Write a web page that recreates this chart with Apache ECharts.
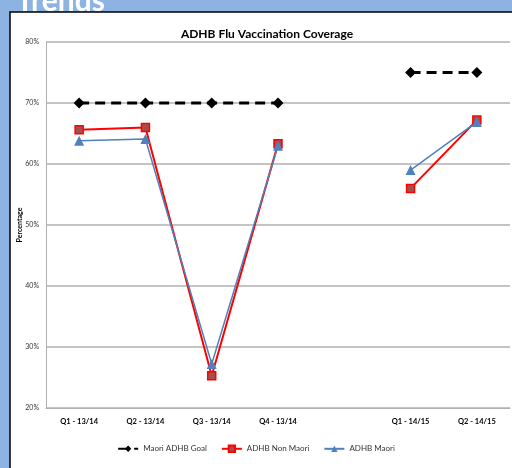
<!DOCTYPE html>
<html><head><meta charset="utf-8">
<script src="https://cdn.jsdelivr.net/npm/echarts@6/dist/echarts.min.js"></script>
<style>html,body{margin:0;padding:0;background:#8DB3E2;}#c{width:512px;height:468px;}</style>
</head><body><div id="c"></div>
<script>
const categories = ['Q1 - 13/14','Q2 - 13/14','Q3 - 13/14','Q4 - 13/14','','Q1 - 14/15','Q2 - 14/15'];
const goal = [70,70,70,70,null,75,75];
const nonMaori = [65.6,66.0,25.3,63.3,null,56.0,67.2];
const maori = [63.8,64.1,27.2,63.0,null,59.0,66.9];
const yTicks = [20,30,40,50,60,70,80];
const yTitle = 'Percentage';

const chart = echarts.init(document.getElementById('c'));
const font = 'Lato, sans-serif';
chart.setOption({
  backgroundColor: '#8DB3E2',
  animation: false,
  graphic: [
    {type:'rect', shape:{x:10,y:12,width:520,height:470}, style:{fill:'#fff', stroke:'#000', lineWidth:1.5}, z:-10},
    {type:'text', left:16, top:-14, style:{text:'Trends', fill:'#fff', font:'bold 30px Lato, sans-serif'}, z:-5},
    {type:'text', x:20, y:225, rotation:Math.PI/2, style:{text:yTitle, fill:'#000', font:'bold 7px Lato, sans-serif', align:'center', verticalAlign:'middle'}}
  ],
  title: {text:'ADHB Flu Vaccination Coverage', left:262, textAlign:'center', top:23,
    textStyle:{fontSize:12, fontWeight:'bold', color:'#000', fontFamily:font}},
  grid: {left:46, right:2, top:42, bottom:60, containLabel:false},
  legend: {bottom:10, left:'center', itemWidth:20, itemHeight:8, itemGap:14,
    textStyle:{fontSize:8, color:'#333', fontFamily:font},
    data:['Maori ADHB Goal','ADHB Non Maori','ADHB Maori']},
  xAxis: {type:'category', data:categories, boundaryGap:true,
    axisLine:{lineStyle:{color:'#B0B0B0'}}, axisTick:{show:false},
    axisLabel:{fontSize:7.5, fontWeight:'bold', color:'#000', fontFamily:font, margin:10, interval:0}},
  yAxis: {type:'value', min:20, max:80, interval:10,
    axisLine:{show:true, lineStyle:{color:'#B0B0B0'}}, axisTick:{show:false},
    axisLabel:{fontSize:7, color:'#333', fontFamily:font, formatter: v => v + '%', margin:7},
    splitLine:{lineStyle:{color:'#B0B0B0', width:1.5}}},
  series: [
    {name:'Maori ADHB Goal', type:'line', data:goal, connectNulls:false,
      symbol:'diamond', symbolSize:11, lineStyle:{color:'#000', width:3, type:[10,6]},
      itemStyle:{color:'#000'}},
    {name:'ADHB Non Maori', type:'line', data:nonMaori,
      symbol:'rect', symbolSize:8, lineStyle:{color:'#FF0000', width:2},
      itemStyle:{color:'#A64D4D', borderColor:'#FF0000', borderWidth:1.5}},
    {name:'ADHB Maori', type:'line', data:maori,
      symbol:'triangle', symbolSize:10, lineStyle:{color:'#4F81BD', width:1.5},
      itemStyle:{color:'#4F81BD'}}
  ]
});
</script></body></html>
